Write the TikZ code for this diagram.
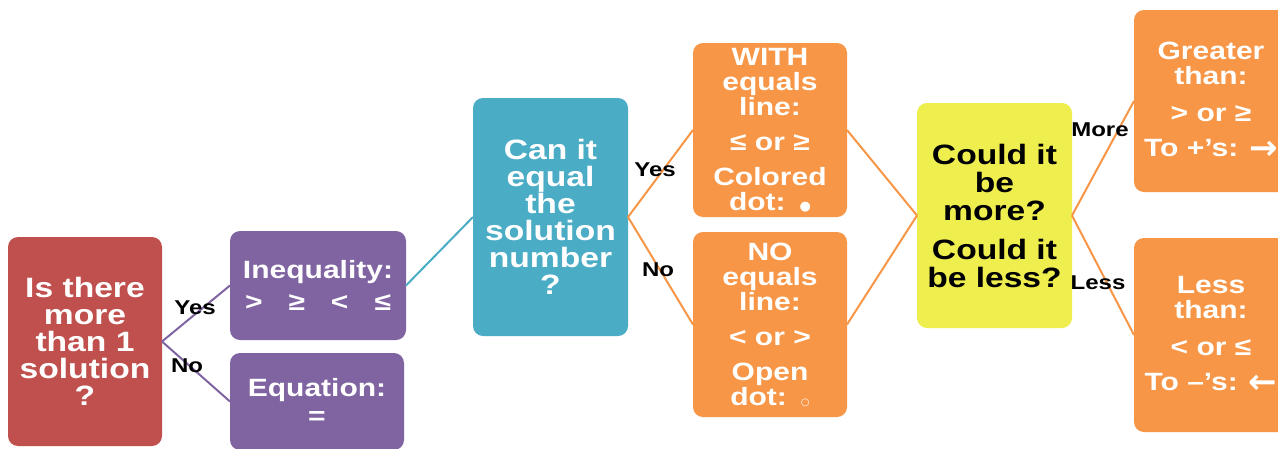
\documentclass[tikz,border=0pt]{standalone}
\usepackage{fontspec}
\setmainfont{Liberation Sans}
\newfontfamily\bx[FakeStretch=1.2]{Liberation Sans}
\newfontfamily\dv{DejaVu Sans}
\definecolor{cred}{HTML}{C0504D}
\definecolor{cpur}{HTML}{8064A2}
\definecolor{cteal}{HTML}{4BACC6}
\definecolor{corg}{HTML}{F79646}
\definecolor{cyel}{HTML}{EFEE4F}
\tikzset{
  box/.style={rounded corners=10pt, inner sep=0pt, outer sep=0pt, align=center,
    text=white, font=\bx\bfseries\fontsize{25}{25}\selectfont},
  lbl/.style={text=black, inner sep=0pt, font=\bx\bfseries\fontsize{20}{20}\selectfont},
  conn/.style={line width=2pt},
}
\newcommand{\bigarrow}[1]{\raisebox{-3pt}{\dv\bfseries\fontsize{34}{34}\selectfont #1}}
\begin{document}
\begin{tikzpicture}[x=1pt,y=-1pt]
\useasboundingbox (0,0) rectangle (1278,448);
\clip (0,0) rectangle (1278,448);
\fill[white] (0,0) rectangle (1278,448);

\node[box, fill=cred, minimum width=154pt, minimum height=209pt,
  font=\bx\bfseries\fontsize{28}{27}\selectfont] (red) at (85,341.5)
  {Is there\\more\\than 1\\solution\\?};
\node[box, fill=cpur, minimum width=176pt, minimum height=109pt] (ineq) at (318,285.5)
  {Inequality:\\[7pt]>\hspace*{26pt}≥\hspace*{26pt}<\hspace*{26pt}≤};
\node[box, fill=cpur, minimum width=174pt, minimum height=97pt] (eq) at (317,401.5)
  {Equation:\\[3pt]=};
\node[box, fill=cteal, minimum width=155pt, minimum height=238pt,
  font=\bx\bfseries\fontsize{28}{27}\selectfont] (teal) at (550.5,217)
  {Can it\\equal\\the\\solution\\number\\?};
\node[box, fill=corg, minimum width=154pt, minimum height=174pt] (with) at (770,130)
  {WITH\\equals\\line:\\[10pt]≤ or ≥\\[10pt]Colored\\dot:\hspace*{14pt}{\dv\fontsize{13}{13}\selectfont ●}};
\node[box, fill=corg, minimum width=154pt, minimum height=185pt] (no) at (770,324.5)
  {NO\\equals\\line:\\[10pt]< or >\\[10pt]Open\\dot:\hspace*{14pt}{\dv\fontsize{10}{10}\selectfont ○}};
\node[box, fill=cyel, text=black, minimum width=155pt, minimum height=225pt,
  font=\bx\bfseries\fontsize{28}{28}\selectfont] (yel) at (994.5,215.5)
  {Could it\\be\\more?\\[11pt]Could it\\be less?};
\node[box, fill=corg, minimum width=154pt, minimum height=182pt] (gr) at (1211,101)
  {Greater\\than:\\[12pt]> or ≥\\[10pt]To +’s: \bigarrow{→}};
\node[box, fill=corg, minimum width=154pt, minimum height=194pt] (ls) at (1211,335)
  {Less\\than:\\[12pt]< or ≤\\[10pt]To –’s: \bigarrow{←}};

\draw[conn, cpur] (red.east) -- (ineq.west);
\draw[conn, cpur] (red.east) -- (eq.west);
\draw[conn, cteal] (ineq.east) -- (teal.west);
\draw[conn, corg] (teal.east) -- (with.west);
\draw[conn, corg] (teal.east) -- (no.west);
\draw[conn, corg] (with.east) -- (yel.west);
\draw[conn, corg] (no.east) -- (yel.west);
\draw[conn, corg] (yel.east) -- (gr.west);
\draw[conn, corg] (yel.east) -- (ls.west);

\node[lbl] (l1) at (195,308) {Yes};
\node[lbl] (l2) at (187,366) {No};
\node[lbl] (l3) at (655,170) {Yes};
\node[lbl] (l4) at (658,270) {No};
\node[lbl] (l5) at (1100,130) {More};
\node[lbl] (l6) at (1098,283) {Less};
\end{tikzpicture}
\end{document}
